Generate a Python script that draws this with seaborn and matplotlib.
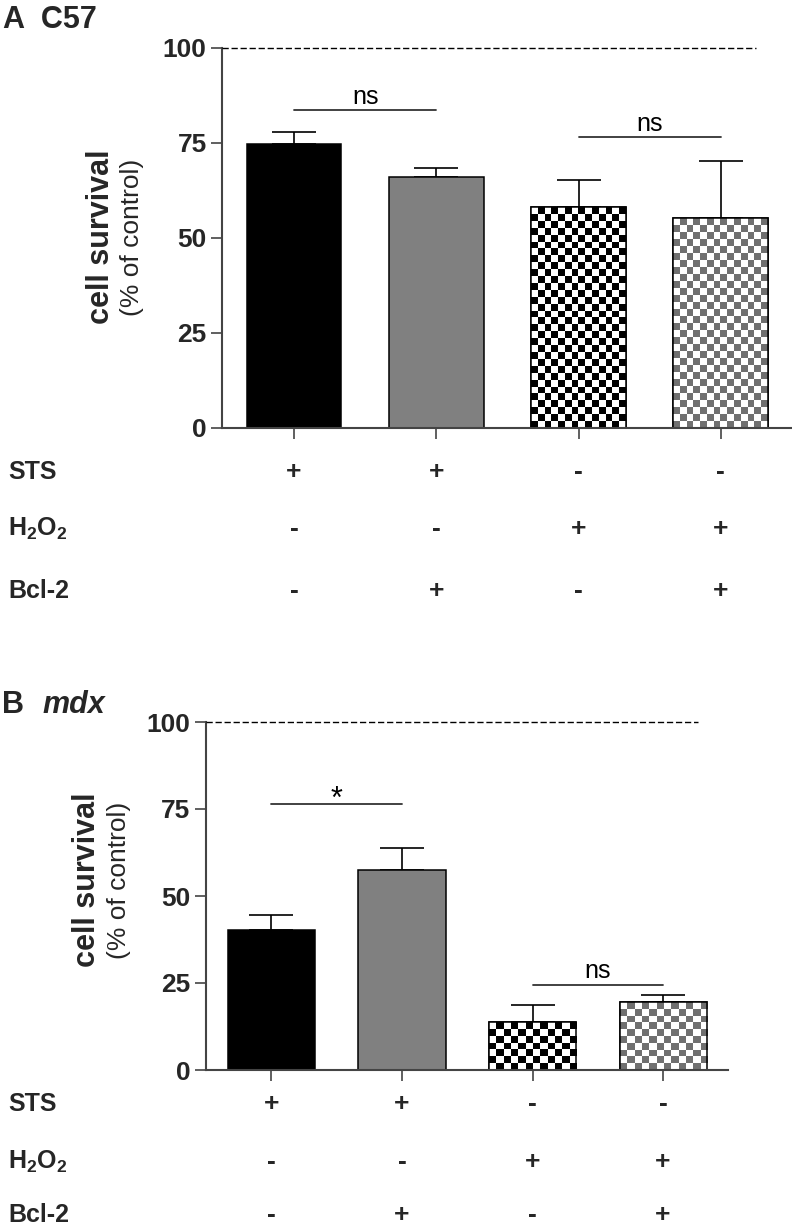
import numpy as np
import pandas as pd
import matplotlib
matplotlib.use("Agg")
import matplotlib.pyplot as plt
import matplotlib.transforms as mtransforms
from matplotlib.colors import ListedColormap
from matplotlib.patches import Rectangle
import seaborn as sns

# ---------------- data ----------------
groups = ["STS", "STS+Bcl-2", "H2O2", "H2O2+Bcl-2"]
c57_mean = [74.7, 65.9, 58.0, 55.1]
c57_sem = [3.0, 2.4, 7.1, 15.2]
mdx_mean = [40.3, 57.5, 13.7, 19.4]
mdx_sem = [4.2, 6.2, 5.0, 2.1]
sts_row = ["+", "+", "-", "-"]
h2o2_row = ["-", "-", "+", "+"]
bcl2_row = ["-", "+", "-", "+"]
row_labels = ["STS", "H$_2$O$_2$", "Bcl-2"]
yticks = [0, 25, 50, 75, 100]
c57_sig = [(0, 1, 83.5, "ns"), (2, 3, 76.5, "ns")]
mdx_sig = [(0, 1, 76.5, "*"), (2, 3, 24.5, "ns")]

# ---------------- style ----------------
sns.set_style("ticks")
plt.rcParams["font.family"] = ["Liberation Sans", "DejaVu Sans"]
plt.rcParams["mathtext.default"] = "regular"

W, H = 792, 1228
fig = plt.figure(figsize=(W / 100, H / 100), dpi=100)

face_colors = ["black", "#808080", "white", "white"]
checker_colors = [None, None, "black", "#707070"]


def fx(px):
    return px / W


def fy(py):
    return 1 - py / H


def draw_panel(ax, means, sems, sig, xlim, dash_end, row_y, ylabel_y, ylab_x):
    df = pd.DataFrame({"group": groups, "value": means})
    sns.barplot(data=df, x="group", y="value", hue="group", palette=face_colors,
                legend=False, errorbar=None, width=0.667, saturation=1,
                edgecolor="black", linewidth=1.1, ax=ax, zorder=2)
    ax.set_xlim(*xlim)
    ax.set_ylim(0, 100)
    x = np.arange(len(means))
    ax.errorbar(x, means, yerr=[np.zeros(len(sems)), sems], fmt="none",
                ecolor="black", elinewidth=1.2, capsize=16, capthick=1.2, zorder=1)

    # checkerboard fills
    cell_px = 7.0
    for patch, col in zip(ax.patches[:len(means)], checker_colors):
        if col is None:
            continue
        x0, y0 = patch.get_x(), patch.get_y()
        w, h = patch.get_width(), patch.get_height()
        p0 = ax.transData.transform((x0, y0))
        p1 = ax.transData.transform((x0 + w, y0 + h))
        nx = max(1, int(round((p1[0] - p0[0]) / cell_px)))
        ny = max(1, int(round((p1[1] - p0[1]) / cell_px)))
        arr = np.add.outer(np.arange(ny), np.arange(nx)) % 2
        im = ax.imshow(arr, cmap=ListedColormap(["white", col]),
                       extent=(x0, x0 + w, y0, y0 + h), origin="upper",
                       interpolation="nearest", aspect="auto",
                       zorder=patch.get_zorder() + 0.1)
        im.set_clip_path(patch)
        ax.add_patch(Rectangle((x0, y0), w, h, fill=False, edgecolor="black",
                               linewidth=1.1, zorder=patch.get_zorder() + 0.2))
    ax.set_xlim(*xlim)
    ax.set_ylim(0, 100)
    ax.set_aspect("auto")

    # reference line at 100
    ax.plot([xlim[0], dash_end], [100, 100], color="black", lw=1.0,
            ls=(0, (4.5, 2)), clip_on=False, zorder=3)

    # significance bars
    for a, b, yv, lab in sig:
        ax.plot([a, b], [yv, yv], color="#333333", lw=1.3, zorder=3)
        ax.annotate(lab, xy=((a + b) / 2, yv), xytext=(0, 1 if lab != "*" else -8),
                    textcoords="offset points", ha="center", va="bottom",
                    fontsize=18 if lab != "*" else 22, color="black")

    # axes styling
    sns.despine(ax=ax, top=True, right=True)
    for s in ["left", "bottom"]:
        ax.spines[s].set_color("#444444")
        ax.spines[s].set_linewidth(1.5)
    ax.set_yticks(yticks)
    ax.set_yticklabels([str(t) for t in yticks], fontsize=19, fontweight="bold")
    ax.set_xticks(x)
    ax.set_xticklabels([])
    ax.tick_params(axis="both", length=8, width=1.2, color="#444444", pad=3)
    ax.set_xlabel("")
    ax.set_ylabel("")

    # condition table
    trans = mtransforms.blended_transform_factory(ax.transData, fig.transFigure)
    for ry, rlab, row in zip(row_y, row_labels, [sts_row, h2o2_row, bcl2_row]):
        fig.text(fx(8), fy(ry), rlab, ha="left", va="center",
                 fontsize=18, fontweight="bold")
        for i, sym in enumerate(row):
            ax.text(i, fy(ry), sym, transform=trans, ha="center", va="center",
                    fontsize=19, fontweight="bold", clip_on=False)

    # y label (two lines)
    fig.text(fx(ylab_x[0]), fy(ylabel_y), "cell survival", rotation=90,
             ha="center", va="center", fontsize=22, fontweight="bold")
    fig.text(fx(ylab_x[1]), fy(ylabel_y), "(% of control)", rotation=90,
             ha="center", va="center", fontsize=19)


# Panel A
axA = fig.add_axes([fx(222), fy(428), fx(792 - 222), (428 - 47.5) / H])
draw_panel(axA, c57_mean, c57_sem, c57_sig, (-0.506, 3.5), 3.25,
           [472, 529, 591], 237, (101, 132))

# Panel B
axB = fig.add_axes([fx(205.5), fy(1070), fx(728 - 205.5), (1070 - 722) / H])
draw_panel(axB, mdx_mean, mdx_sem, mdx_sig, (-0.505, 3.497), 3.27,
           [1104, 1162, 1215], 880, (87, 119))

# Panel titles
fig.text(fx(3), fy(28), "A  C57", ha="left", va="baseline",
         fontsize=22, fontweight="bold")
fig.text(fx(2), fy(713), "B", ha="left", va="baseline",
         fontsize=22, fontweight="bold")
fig.text(fx(42), fy(713), "mdx", ha="left", va="baseline",
         fontsize=22, fontweight="bold", fontstyle="italic")

fig.savefig("out.png", dpi=100)
